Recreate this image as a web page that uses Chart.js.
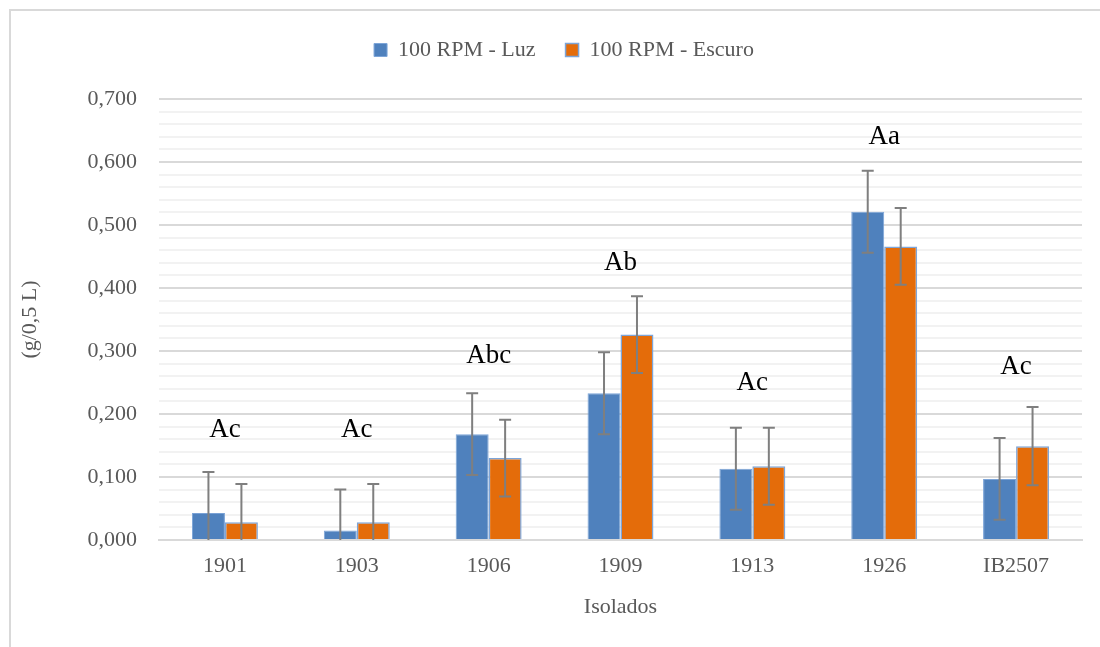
<!DOCTYPE html>
<html>
<head>
<meta charset="utf-8">
<script src="https://cdn.jsdelivr.net/npm/chart.js@4.4.1/dist/chart.umd.min.js"></script>
<style>
  html, body { margin: 0; padding: 0; background: #fff; }
  #wrap { position: relative; width: 1100px; height: 647px; overflow: hidden; }
  #frame { position: absolute; left: 9px; top: 9px; width: 1200px; height: 700px;
           border-left: 2px solid #d9d9d9; border-top: 2px solid #d9d9d9; }
  canvas { position: absolute; left: 0; top: 0; }
</style>
</head>
<body>
<div id="wrap">
  <div id="frame"></div>
  <canvas id="chart" width="1100" height="647"></canvas>
</div>
<script>
const isolados = ['1901', '1903', '1906', '1909', '1913', '1926', 'IB2507'];
const luz = [0.043, 0.015, 0.168, 0.233, 0.113, 0.521, 0.097];
const escuro = [0.028, 0.028, 0.130, 0.326, 0.117, 0.466, 0.149];
const luzErr = [0.065, 0.065, 0.065, 0.065, 0.065, 0.065, 0.065];
const escuroErr = [0.061, 0.061, 0.061, 0.061, 0.061, 0.061, 0.062];
const letras = ['Ac', 'Ac', 'Abc', 'Ab', 'Ac', 'Aa', 'Ac'];
const letraY = [0.174, 0.174, 0.292, 0.440, 0.249, 0.640, 0.274];

const FONT = '"Liberation Serif", "Times New Roman", serif';
const GREY = '#595959';

// desvio padrão desenhado sobre cada barra
const errorBars = {
  id: 'errorBars',
  afterDatasetsDraw(chart) {
    const ctx = chart.ctx;
    const y = chart.scales.y;
    const errs = [luzErr, escuroErr];
    ctx.save();
    ctx.strokeStyle = '#7f7f7f';
    ctx.lineWidth = 2;
    chart.data.datasets.forEach((ds, di) => {
      chart.getDatasetMeta(di).data.forEach((bar, i) => {
        const v = ds.data[i];
        const top = y.getPixelForValue(v + errs[di][i]);
        const bot = y.getPixelForValue(Math.max(0, v - errs[di][i]));
        ctx.beginPath();
        ctx.moveTo(bar.x, top); ctx.lineTo(bar.x, bot);
        ctx.moveTo(bar.x - 6, top); ctx.lineTo(bar.x + 6, top);
        if (v - errs[di][i] > 0) { ctx.moveTo(bar.x - 6, bot); ctx.lineTo(bar.x + 6, bot); }
        ctx.stroke();
      });
    });
    ctx.restore();
  }
};

// letras do teste de médias
const letterLabels = {
  id: 'letterLabels',
  afterDraw(chart) {
    const ctx = chart.ctx;
    const x = chart.scales.x, y = chart.scales.y;
    ctx.save();
    ctx.font = '27px ' + FONT;
    ctx.fillStyle = '#000';
    ctx.textAlign = 'center';
    ctx.textBaseline = 'middle';
    letras.forEach((t, i) => ctx.fillText(t, x.getPixelForValue(i), y.getPixelForValue(letraY[i])));
    ctx.restore();
  }
};

// espaço extra abaixo da legenda e leve deslocamento para a direita
const legendSpace = {
  id: 'legendSpace',
  beforeInit(chart) {
    const fit = chart.legend.fit;
    chart.legend.fit = function () {
      fit.call(this);
      this.height += 28;
    };
  },
  afterLayout(chart) {
    chart.legend.left += 23;
    chart.legend.right += 23;
  }
};

new Chart(document.getElementById('chart'), {
  type: 'bar',
  data: {
    labels: isolados,
    datasets: [
      { label: '100 RPM - Luz', data: luz, backgroundColor: '#4f81bd', borderColor: '#7da5d8', borderWidth: 1 },
      { label: '100 RPM - Escuro', data: escuro, backgroundColor: '#e46c0a', borderColor: '#7da5d8', borderWidth: 1.5 }
    ]
  },
  plugins: [errorBars, letterLabels, legendSpace],
  options: {
    responsive: false,
    animation: false,
    layout: { padding: { left: 0, right: 18, top: 9, bottom: 0 } },
    datasets: { bar: { categoryPercentage: 0.5, barPercentage: 1.0 } },
    plugins: {
      tooltip: { enabled: false },
      legend: {
        position: 'top',
        labels: { boxWidth: 13, boxHeight: 13, padding: 30, color: GREY, font: { family: FONT, size: 22 } }
      }
    },
    scales: {
      x: {
        grid: { display: false },
        border: { display: true, color: '#d9d9d9', width: 2 },
        ticks: { color: GREY, padding: 5, font: { family: FONT, size: 22 } },
        title: { display: true, text: 'Isolados', color: GREY, font: { family: FONT, size: 22 }, padding: { bottom: 27 } },
        afterFit(s) { s.height = 107; }
      },
      y: {
        min: 0,
        max: 0.7,
        border: { display: false },
        grid: {
          drawTicks: false,
          lineWidth: 2,
          color: c => (Math.round(c.tick.value * 1000) % 100 === 0 ? '#d9d9d9' : '#f2f2f2')
        },
        ticks: {
          stepSize: 0.02,
          autoSkip: false,
          padding: 22,
          color: GREY,
          font: { family: FONT, size: 22 },
          callback: v => (Math.round(v * 1000) % 100 === 0 ? v.toFixed(3).replace('.', ',') : '')
        },
        title: { display: true, text: '(g/0,5 L)', color: GREY, font: { family: FONT, size: 22 }, padding: { top: 17 } },
        afterFit(s) { s.width = 159; }
      }
    }
  }
});
</script>
</body>
</html>
